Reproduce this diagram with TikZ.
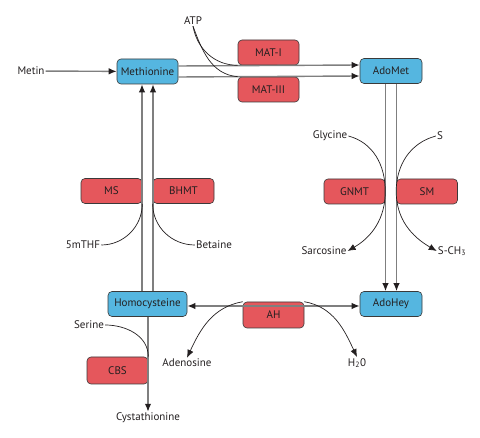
\documentclass[tikz,border=0pt]{standalone}
\usepackage{fontspec}
\setmainfont{PT Sans}
\usetikzlibrary{arrows.meta,positioning}
\definecolor{metab}{HTML}{55B6E0}
\definecolor{enzyme}{HTML}{E5575C}
\definecolor{edge}{HTML}{3A3A3A}
\definecolor{flow}{HTML}{7F7F7F}
\definecolor{ink}{HTML}{231F20}
\tikzset{
    box/.style={rounded corners=4pt, draw=edge, line width=0.6pt,
        minimum width=61pt, minimum height=25pt, inner sep=0pt, text=ink},
    metabolite/.style={box, fill=metab},
    enzymebox/.style={box, fill=enzyme},
    label/.style={text=ink, inner sep=1pt},
    flowline/.style={draw=flow, line width=1.4pt},
    head/.tip={Latex[length=8pt,width=6.5pt,color=ink]},
    tip/.style={-head},
    side/.style={draw=ink, line width=0.7pt}
}

\begin{document}
\begin{tikzpicture}[x=1pt, y=-1pt, font=\fontsize{11}{13}\selectfont]
        \useasboundingbox (0,0) rectangle (480,438);

        \node[metabolite] (met) at (147.5,71.5) {Methionine};
        \node[metabolite, minimum width=62pt] (adomet) at (391,71) {AdoMet};
        \node[metabolite, minimum width=79pt] (hcy) at (147.5,304) {Homocysteine};
        \node[metabolite, minimum width=62pt] (adohey) at (391,304) {AdoHey};

        \node[enzymebox] (mat1) at (268.5,52.5) {MAT-I};
        \node[enzymebox] (mat3) at (268.5,89.5) {MAT-III};
        \node[enzymebox] (ms) at (111.5,191) {MS};
        \node[enzymebox] (bhmt) at (183.5,191) {BHMT};
        \node[enzymebox] (gnmt) at (354.5,191.5) {GNMT};
        \node[enzymebox] (sm) at (427,191.5) {SM};
        \node[enzymebox, minimum height=26pt] (ah) at (273.5,315) {AH};
        \node[enzymebox, minimum height=27pt] (cbs) at (117.5,370.5) {CBS};

        \node[label] (metin) at (31,71) {Metin};
        \node[label] (atp) at (193,21) {ATP};
        \node[label] (mthf) at (83,245) {5mTHF};
        \node[label] (betaine) at (214,245) {Betaine};
        \node[label] (glycine) at (330,136) {Glycine};
        \node[label] (s) at (440,136) {S};
        \node[label] (sarc) at (324,251) {Sarcosine};
        \node[label] (sch3) at (452,251) {S-CH\textsubscript{3}};
        \node[label] (serine) at (89,325) {Serine};
        \node[label] (adenosine) at (187,363) {Adenosine};
        \node[label] (h2o) at (357,363) {H\textsubscript{2}0};
        \node[label] (cysta) at (148,418) {Cystathionine};

        \draw[flowline, tip] (metin) -- (met);
        \draw[flowline, tip] ([yshift=-5.5pt]met.east) -- ([yshift=-5pt]adomet.west);
        \draw[flowline, tip] ([yshift=5.5pt]met.east) -- ([yshift=6pt]adomet.west);
        \draw[flowline, tip] ([xshift=-5.5pt]hcy.north) -- ([xshift=-5.5pt]met.south);
        \draw[flowline, tip] ([xshift=5.5pt]hcy.north) -- ([xshift=5.5pt]met.south);
        \draw[flowline, tip] ([xshift=-5.5pt]adomet.south) -- ([xshift=-5.5pt]adohey.north);
        \draw[flowline, tip] ([xshift=5.5pt]adomet.south) -- ([xshift=5.5pt]adohey.north);
        \draw[flowline, head-head] ([yshift=-2pt]hcy.east) -- ([yshift=-2pt]adohey.west);
        \draw[flowline, tip] ([xshift=0.5pt]hcy.south) -- (cysta);

        \draw[side] (atp.south) to[out=-80, in=180] (mat1.south west);
        \draw[side] (atp.south) to[out=-70, in=175] (mat3.north west);
        \draw[side] (mthf.east) to[out=0, in=-90] (ms.south east);
        \draw[side] (betaine.west) to[out=180, in=-90] (bhmt.south west);
        \draw[side, tip] (glycine.east) to[out=-15, in=90] (gnmt.east)
            to[out=-90, in=30] (sarc.east);
        \draw[side, tip] (s.west) to[out=195, in=90] (sm.west)
            to[out=-90, in=150] (sch3.west);
        \draw[side, tip] (ah.north west) to[out=190, in=65] (adenosine.north);
        \draw[side, tip] (ah.north east) to[out=-10, in=115] (h2o.north);
        \draw[side] (serine.east) to[out=0, in=90] (cbs.north east);
    \end{tikzpicture}
\end{document}
